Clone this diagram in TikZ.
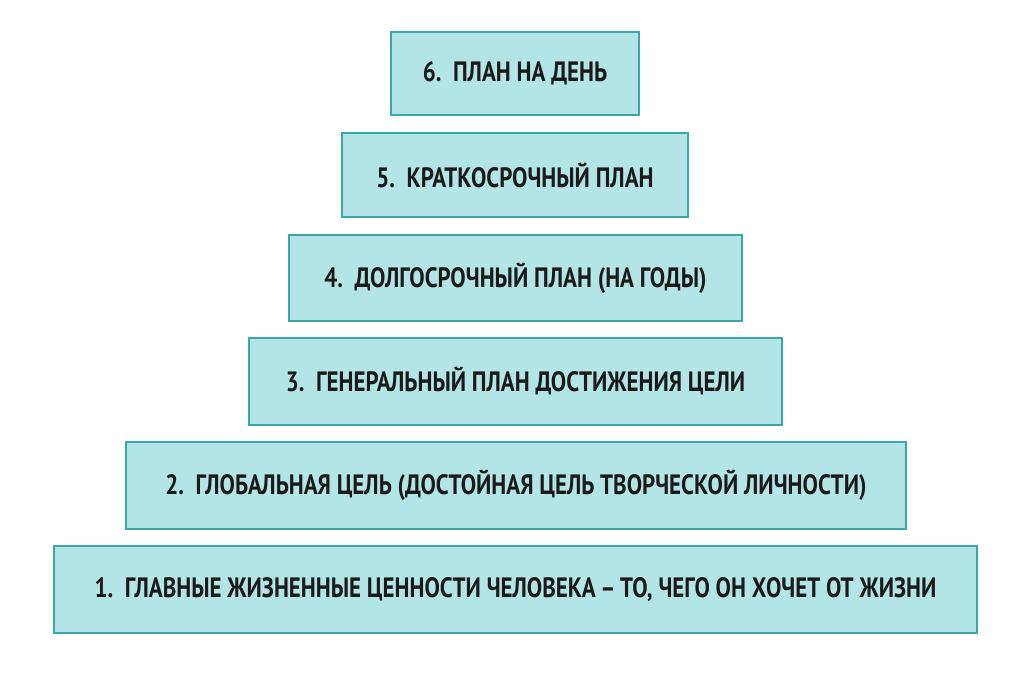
\documentclass[tikz,border=0pt]{standalone}
\usepackage{fontspec}
\setmainfont{PT Sans}[FakeStretch=0.82]
\definecolor{boxfill}{HTML}{B3E5E6}
\definecolor{boxline}{HTML}{3AA8A8}
\definecolor{txt}{HTML}{1A1A1A}
\begin{document}
\begin{tikzpicture}[x=1pt,y=-1pt,
  lvl/.style={draw=boxline,line width=1.6pt,fill=boxfill},
  lbl/.style={text=txt,font=\bfseries\fontsize{28}{32}\selectfont}]
\useasboundingbox (0,0) rectangle (1024,683);
\newcommand\lvlbox[6]{\draw[lvl] (#1,#3) rectangle (#2,#4);
  \node[lbl] (#5) at ({(#1+#2)/2},{(#3+#4)/2}) {#6};}
\lvlbox{391}{639}{32}{115}{n6}{6.\ \ ПЛАН НА ДЕНЬ}
\lvlbox{342}{688}{133}{217}{n5}{5.\ \ КРАТКОСРОЧНЫЙ ПЛАН}
\lvlbox{289}{742}{235}{321}{n4}{4.\ \ ДОЛГОСРОЧНЫЙ ПЛАН (НА ГОДЫ)}
\lvlbox{249}{782}{338}{425}{n3}{3.\ \ ГЕНЕРАЛЬНЫЙ ПЛАН ДОСТИЖЕНИЯ ЦЕЛИ}
\lvlbox{126}{906}{442}{529}{n2}{2.\ \ ГЛОБАЛЬНАЯ ЦЕЛЬ (ДОСТОЙНАЯ ЦЕЛЬ ТВОРЧЕСКОЙ ЛИЧНОСТИ)}
\lvlbox{54}{977}{546}{633}{n1}{1.\ \ ГЛАВНЫЕ ЖИЗНЕННЫЕ ЦЕННОСТИ ЧЕЛОВЕКА\,–\,ТО, ЧЕГО ОН ХОЧЕТ ОТ ЖИЗНИ}
\end{tikzpicture}
\end{document}
